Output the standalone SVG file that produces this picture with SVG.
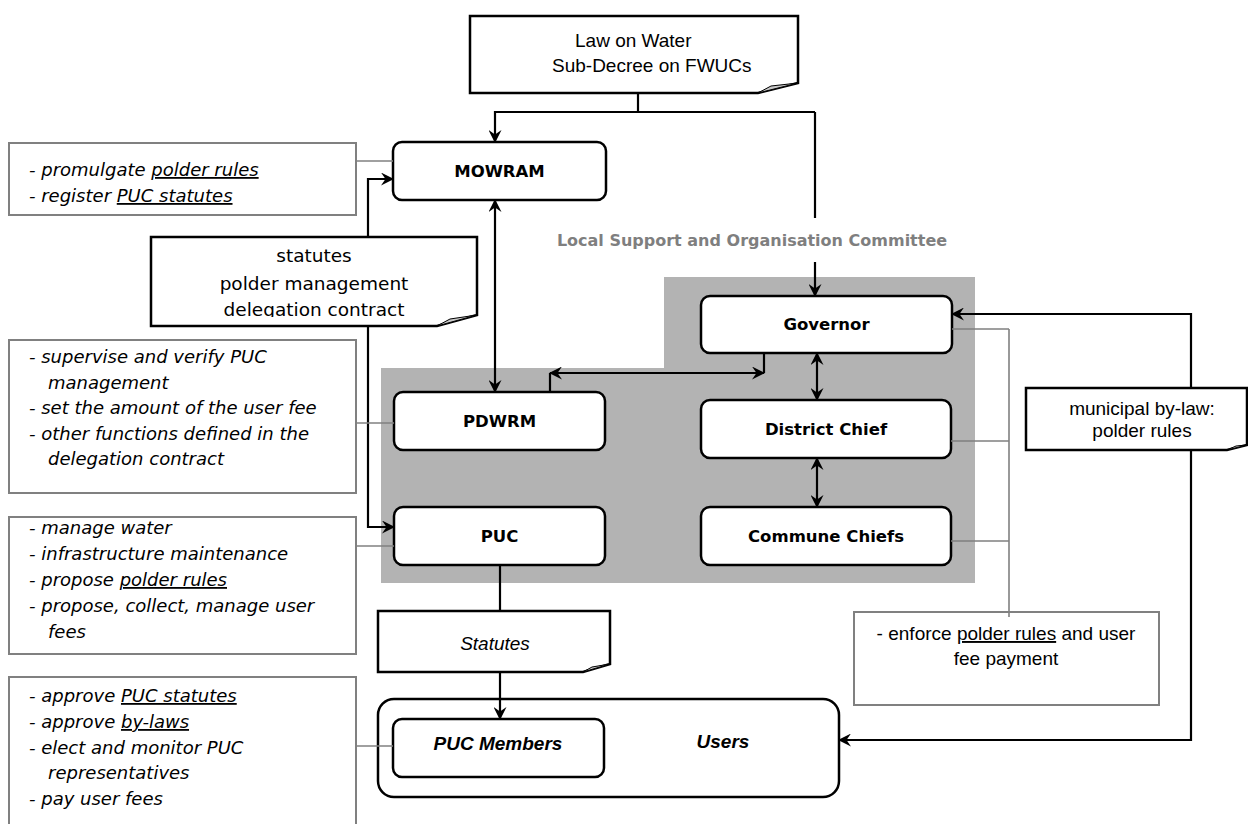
<svg xmlns="http://www.w3.org/2000/svg" width="1248" height="824" viewBox="0 0 1248 824">
  <defs>
    <style>
      .box { fill: #fff; stroke: #000; stroke-width: 2.5; }
      .doc { fill: #fff; stroke: #000; stroke-width: 2.5; stroke-linejoin: miter; }
      .curl { fill: #c8c8c8; stroke: #000; stroke-width: 1; }
      .note { fill: #fff; stroke: #808080; stroke-width: 2; }
      .link { fill: none; stroke: #000; stroke-width: 2.2; }
      .tie { fill: none; stroke: #808080; stroke-width: 1.6; }
      .lbl { font-family: "DejaVu Sans", sans-serif; font-weight: bold; font-size: 16.5px; fill: #000; text-anchor: middle; }
      .it { font-family: "DejaVu Sans", sans-serif; font-style: italic; font-size: 18px; fill: #000; }
      .reg { font-family: "DejaVu Sans", sans-serif; font-size: 18.5px; fill: #000; text-anchor: middle; }
      .ar { font-family: "Liberation Sans", Arial, sans-serif; font-size: 19px; fill: #000; }
      .u { text-decoration: underline; }
    </style>
    <marker id="head" viewBox="0 0 13 13" refX="12" refY="6.5" markerWidth="13" markerHeight="13" markerUnits="userSpaceOnUse" orient="auto-start-reverse">
      <path d="M0,0 L13,6.5 L0,13 L4.5,6.5 Z" fill="#000"/>
    </marker>
    <clipPath id="clipStat">
      <rect x="151" y="237" width="326" height="80"/>
    </clipPath>
  </defs>

  <!-- shaded committee area -->
  <polygon points="664,277 975,277 975,583 381,583 381,368 664,368" fill="#b3b3b3"/>

  <!-- committee caption -->
  <g id="committee-caption">
    <text x="752" y="246" style="font-family:'DejaVu Sans',sans-serif;font-weight:bold;font-size:16px;fill:#7f7f7f;text-anchor:middle">Local Support and Organisation Committee</text>
  </g>

  <g id="law">
    <path class="doc" d="M470,16 H798 V83 L758,93 H470 Z"/>
    <path class="curl" d="M758,93 L771,86 L798,83 Z"/>
    <text class="ar" x="575" y="47">Law on Water</text>
    <text class="ar" x="552" y="72">Sub-Decree on FWUCs</text>
  </g>

  <g id="mowram">
    <rect class="box" x="393" y="142" width="213" height="58" rx="9"/>
    <text class="lbl" x="499.5" y="177">MOWRAM</text>
  </g>

  <g id="note-mowram">
    <rect class="note" x="9" y="143" width="347" height="72"/>
    <text class="it" x="29" y="176">- promulgate <tspan class="u">polder rules</tspan></text>
    <text class="it" x="29" y="202">- register <tspan class="u">PUC statutes</tspan></text>
  </g>

  <g id="statutes-doc">
    <path class="doc" d="M151,237 H477 V315 L437,326 H151 Z"/>
    <path class="curl" d="M437,326 L450,319 L477,315 Z"/>
    <g clip-path="url(#clipStat)">
      <text class="reg" x="314" y="262">statutes</text>
      <text class="reg" x="314" y="290">polder management</text>
      <text class="reg" x="314" y="316">delegation contract</text>
    </g>
  </g>

  <g id="governor">
    <rect class="box" x="701" y="296" width="251" height="57" rx="9"/>
    <text class="lbl" x="826.5" y="330">Governor</text>
  </g>

  <g id="pdwrm">
    <rect class="box" x="394" y="392" width="211" height="58" rx="9"/>
    <text class="lbl" x="499.5" y="427">PDWRM</text>
  </g>

  <g id="district-chief">
    <rect class="box" x="701" y="400" width="250" height="58" rx="9"/>
    <text class="lbl" x="826" y="435">District Chief</text>
  </g>

  <g id="puc">
    <rect class="box" x="394" y="507" width="211" height="58" rx="9"/>
    <text class="lbl" x="499.5" y="542">PUC</text>
  </g>

  <g id="commune-chiefs">
    <rect class="box" x="701" y="507" width="250" height="58" rx="9"/>
    <text class="lbl" x="826" y="542">Commune Chiefs</text>
  </g>

  <g id="note-pdwrm">
    <rect class="note" x="9" y="340" width="347" height="153"/>
    <text class="it" x="29" y="363">- supervise and verify PUC</text>
    <text class="it" x="48" y="388.5">management</text>
    <text class="it" x="29" y="414">- set the amount of the user fee</text>
    <text class="it" x="29" y="439.5">- other functions defined in the</text>
    <text class="it" x="48" y="465">delegation contract</text>
  </g>

  <g id="note-puc">
    <rect class="note" x="9" y="517" width="347" height="137"/>
    <text class="it" x="29" y="534">- manage water</text>
    <text class="it" x="29" y="560">- infrastructure maintenance</text>
    <text class="it" x="29" y="586">- propose <tspan class="u">polder rules</tspan></text>
    <text class="it" x="29" y="612">- propose, collect, manage user</text>
    <text class="it" x="48" y="638">fees</text>
  </g>

  <g id="municipal-doc">
    <path class="doc" d="M1026,388 H1247 V445 L1227,450 H1026 Z"/>
    <path class="curl" d="M1227,450 L1236,446 L1247,445 Z"/>
    <text class="ar" x="1142" y="415" text-anchor="middle">municipal by-law:</text>
    <text class="ar" x="1142" y="437" text-anchor="middle">polder rules</text>
  </g>

  <g id="note-enforce">
    <rect class="note" x="854" y="612" width="305" height="93"/>
    <text class="ar" x="1006" y="640" text-anchor="middle">- enforce <tspan class="u">polder rules</tspan> and user</text>
    <text class="ar" x="1006" y="665" text-anchor="middle">fee payment</text>
  </g>

  <g id="statutes-small">
    <path class="doc" d="M378,611 H610 V664 L583,672 H378 Z"/>
    <path class="curl" d="M583,672 L592,667 L610,664 Z"/>
    <text class="ar" x="495" y="650" text-anchor="middle" font-style="italic">Statutes</text>
  </g>

  <g id="users">
    <rect class="box" x="378" y="699" width="461" height="98" rx="16"/>
    <text class="ar" x="723" y="748" text-anchor="middle" font-weight="bold" font-style="italic">Users</text>
  </g>

  <g id="puc-members">
    <rect class="box" x="393" y="719" width="211" height="58" rx="9"/>
    <text class="ar" x="498" y="750" text-anchor="middle" font-weight="bold" font-style="italic">PUC Members</text>
  </g>

  <g id="note-members">
    <rect class="note" x="9" y="677" width="347" height="160"/>
    <text class="it" x="29" y="702">- approve <tspan class="u">PUC statutes</tspan></text>
    <text class="it" x="29" y="728">- approve <tspan class="u">by-laws</tspan></text>
    <text class="it" x="29" y="754">- elect and monitor PUC</text>
    <text class="it" x="48" y="779">representatives</text>
    <text class="it" x="29" y="805">- pay user fees</text>
  </g>

  <!-- connectors, drawn last; segments stop at the document shapes they pass behind -->
  <g id="connectors">
    <path class="link" d="M638,93 V112"/>
    <path class="link" d="M815,112 H495 V142" marker-end="url(#head)"/>
    <path class="link" d="M815,112 V218"/>
    <path class="link" d="M815,262 V296" marker-end="url(#head)"/>
    <path class="link" d="M495,200 V392" marker-start="url(#head)" marker-end="url(#head)"/>
    <path class="link" d="M393,179 H368 V237" marker-start="url(#head)"/>
    <path class="link" d="M368,326 V527 H394" marker-end="url(#head)"/>
    <path class="link" d="M550,373 H764" marker-start="url(#head)" marker-end="url(#head)"/>
    <path class="link" d="M550,373 V392 M764,353 V373"/>
    <path class="link" d="M817,353 V400" marker-start="url(#head)" marker-end="url(#head)"/>
    <path class="link" d="M817,458 V507" marker-start="url(#head)" marker-end="url(#head)"/>
    <path class="link" d="M500,565 V611"/>
    <path class="link" d="M500,672 V719" marker-end="url(#head)"/>
    <path class="link" d="M1191,388 V314 H952" marker-end="url(#head)"/>
    <path class="link" d="M1191,450 V740 H839" marker-end="url(#head)"/>
    <!-- grey attachment lines -->
    <path class="tie" d="M356,161 H393"/>
    <path class="tie" d="M356,423 H394"/>
    <path class="tie" d="M356,546 H394"/>
    <path class="tie" d="M356,746 H393"/>
    <path class="tie" d="M952,329 H1009 M951,441 H1009 M951,541 H1009 M1009,329 V617"/>
  </g>
</svg>
